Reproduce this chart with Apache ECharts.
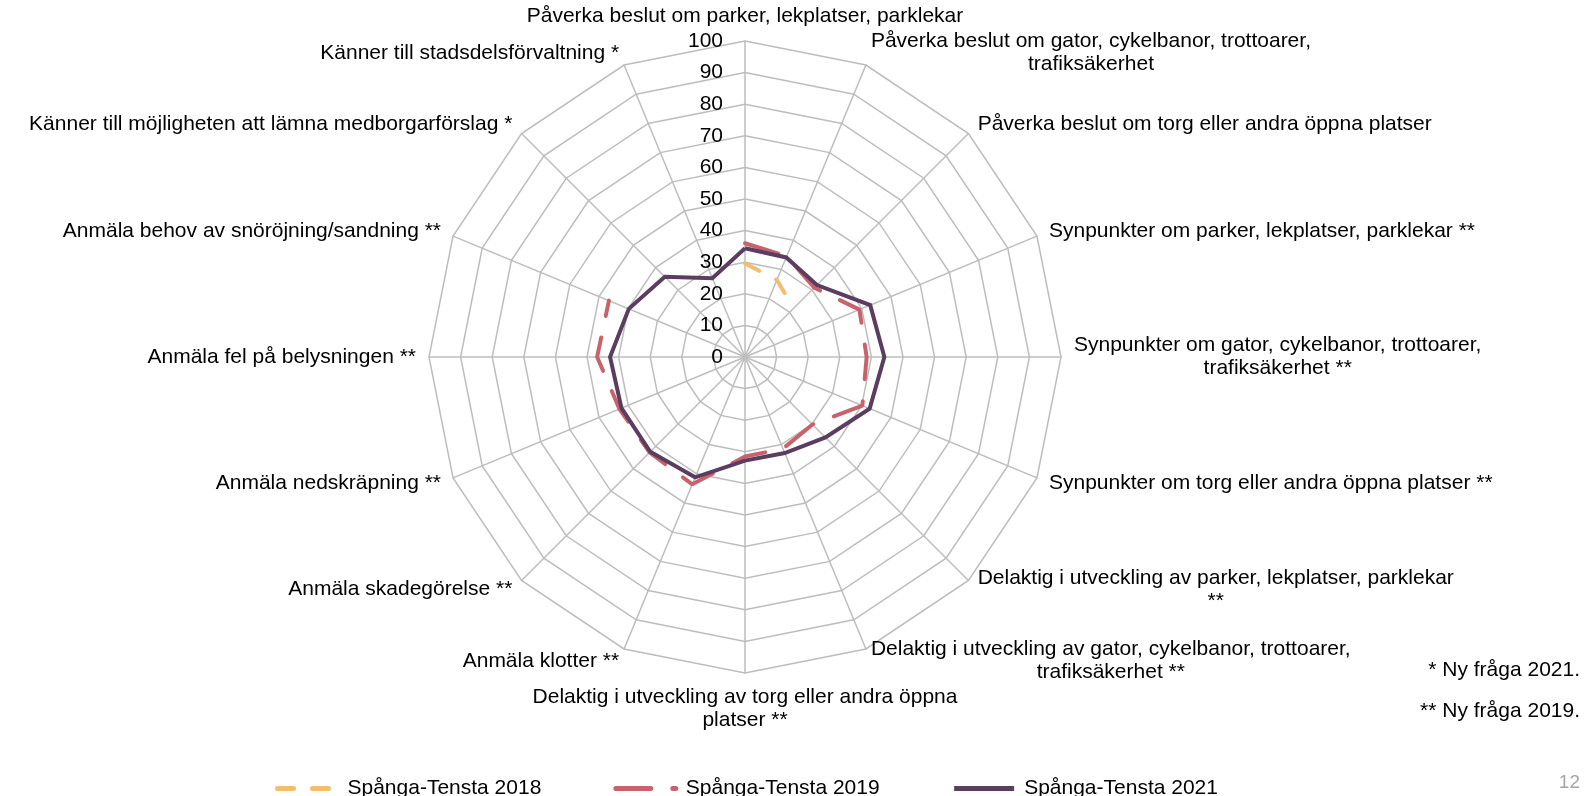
<!DOCTYPE html>
<html>
<head>
<meta charset="utf-8">
<script src="https://cdn.jsdelivr.net/npm/echarts@6/dist/echarts.min.js"></script>
<style>
  html, body { margin: 0; padding: 0; background: #ffffff; }
  #chart { width: 1596px; height: 796px; }
</style>
</head>
<body>
<div id="chart"></div>
<script>
// Indicators, clockwise from the top
const indicatorNames = [
  "Påverka beslut om parker, lekplatser, parklekar",
  "Påverka beslut om gator, cykelbanor, trottoarer,\ntrafiksäkerhet",
  "Påverka beslut om torg eller andra öppna platser",
  "Synpunkter om parker, lekplatser, parklekar **",
  "Synpunkter om gator, cykelbanor, trottoarer,\ntrafiksäkerhet **",
  "Synpunkter om torg eller andra öppna platser **",
  "Delaktig i utveckling av parker, lekplatser, parklekar\n**",
  "Delaktig i utveckling av gator, cykelbanor, trottoarer,\ntrafiksäkerhet **",
  "Delaktig i utveckling av torg eller andra öppna\nplatser **",
  "Anmäla klotter **",
  "Anmäla skadegörelse **",
  "Anmäla nedskräpning **",
  "Anmäla fel på belysningen **",
  "Anmäla behov av snöröjning/sandning **",
  "Känner till möjligheten att lämna medborgarförslag *",
  "Känner till stadsdelsförvaltning *"
];

const seriesNames = ["Spånga-Tensta 2018", "Spånga-Tensta 2019", "Spånga-Tensta 2021"];

const values2018 = [29.6, 26.4, 21.8, null, null, null, null, null, null, null, null, null, null, null, null, null];
const values2019 = [36.0, 34.5, 31.0, 39.2, 38.5, 40.2, 30.2, 31.4, 31.5, 43.6, 42.7, 43.0, 46.8, 46.6, null, null];
const values2021 = [34.4, 34.1, 32.2, 42.9, 44.1, 42.7, 36.0, 32.9, 32.8, 41.2, 42.4, 42.3, 42.7, 39.8, 35.9, 27.0];

const scaleMin = 0, scaleMax = 100, scaleStep = 10;

const footnotes = ["* Ny fråga 2021.", "** Ny fråga 2019."];
const pageNumber = "12";

const FONT = "'Liberation Sans', Arial, sans-serif";
const FS = 21;
const CENTER = [745, 357];
const RADIUS = 316;
const N = indicatorNames.length;

// ECharts radar lays indicators out counter-clockwise; reverse (keeping the first on top)
const order = [0].concat(Array.from({length: N - 1}, (_, i) => N - 1 - i));
const indicators = order.map(i => ({ name: indicatorNames[i], min: scaleMin, max: scaleMax }));

// polar line data: [radius, angleIndex], closing back to the first indicator
function toPolar(vals) {
  const d = vals.map((v, i) => [v == null ? '-' : v, i]);
  d.push([vals[0] == null ? '-' : vals[0], N]);
  return d;
}

const chart = echarts.init(document.getElementById('chart'), null, { renderer: 'canvas' });

const option = {
  backgroundColor: '#ffffff',
  animation: false,
  textStyle: { fontFamily: FONT },
  radar: {
    center: CENTER,
    radius: RADIUS,
    startAngle: 90,
    shape: 'polygon',
    splitNumber: 10,
    indicator: indicators,
    axisNameGap: 13,
    axisName: {
      color: '#000000',
      fontSize: FS,
      fontFamily: FONT,
      formatter: function (name) {
        return name.split('\n').map(l => '{c|' + l + '}').join('\n');
      },
      rich: {
        c: { align: 'center', fontSize: FS, lineHeight: 23, fontFamily: FONT, color: '#000000' }
      }
    },
    axisLine: { lineStyle: { color: '#BDBDBD', width: 1.5 } },
    splitLine: { lineStyle: { color: '#BDBDBD', width: 1.5 } },
    splitArea: { show: false },
    axisTick: { show: false },
    axisLabel: { show: false }
  },
  polar: { center: CENTER, radius: RADIUS },
  angleAxis: {
    type: 'value', min: 0, max: N, startAngle: 90, clockwise: true,
    axisLine: { show: false }, axisTick: { show: false },
    axisLabel: { show: false }, splitLine: { show: false }
  },
  radiusAxis: {
    type: 'value', min: scaleMin, max: scaleMax, interval: scaleStep,
    axisLine: { show: false }, axisTick: { show: false }, splitLine: { show: false },
    axisLabel: { show: true, fontSize: FS, color: '#000000', fontFamily: FONT, margin: 22 },
    z: 5
  },
  legend: {
    left: 270, top: 773,
    itemWidth: 60, itemHeight: 20, itemGap: 72,
    lineStyle: { width: 5 },
    itemStyle: { opacity: 0, color: 'transparent', borderWidth: 0 },
    textStyle: { fontSize: FS, color: '#000000', fontFamily: FONT, padding: [0, 0, 0, 5] },
    data: seriesNames
  },
  series: [
    {
      name: seriesNames[0], type: 'line', coordinateSystem: 'polar',
      data: toPolar(values2018), symbol: 'none', connectNulls: false, z: 3,
      lineStyle: { color: '#F0BE6E', width: 4, type: [16, 19], cap: 'round' },
      itemStyle: { color: '#F0BE6E' }
    },
    {
      name: seriesNames[1], type: 'line', coordinateSystem: 'polar',
      data: toPolar(values2019), symbol: 'none', connectNulls: false, z: 3,
      lineStyle: { color: '#C8636B', width: 4, type: [35, 22], cap: 'round' },
      itemStyle: { color: '#C8636B' }
    },
    {
      name: seriesNames[2], type: 'line', coordinateSystem: 'polar',
      data: toPolar(values2021), symbol: 'none', connectNulls: false, z: 4,
      lineStyle: { color: '#5A3D5F', width: 4, type: 'solid', join: 'miter' },
      itemStyle: { color: '#5A3D5F' }
    }
  ],
  graphic: [
    { type: 'text', right: 16, top: 660, style: { text: footnotes[0], font: FS + 'px ' + FONT, fill: '#000000' } },
    { type: 'text', right: 16, top: 701, style: { text: footnotes[1], font: FS + 'px ' + FONT, fill: '#000000' } },
    { type: 'text', right: 16, top: 773, style: { text: pageNumber, font: '19px ' + FONT, fill: '#A6A6A6' } }
  ]
};

chart.setOption(option);
</script>
</body>
</html>
